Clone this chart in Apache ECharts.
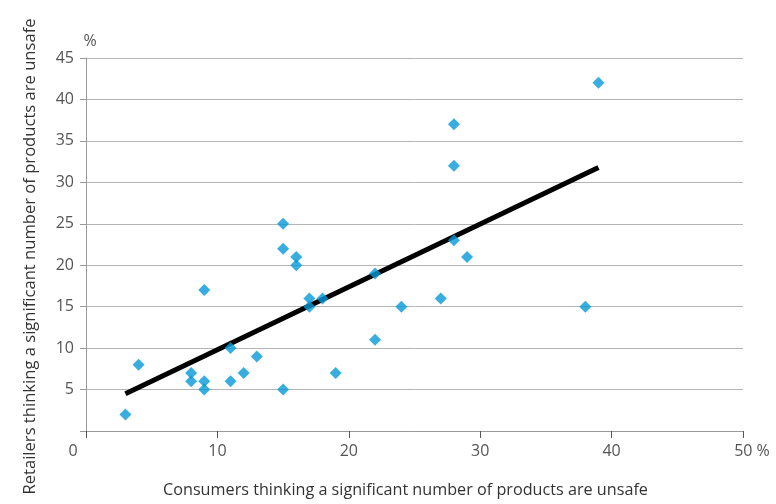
<!DOCTYPE html>
<html>
<head>
<meta charset="utf-8">
<script src="https://cdn.jsdelivr.net/npm/echarts@6/dist/echarts.min.js"></script>
<style>html,body{margin:0;padding:0;background:#fff}#c{width:776px;height:504px}</style>
</head>
<body>
<div id="c"></div>
<script>
// Consumers (%) thinking a significant number of products are unsafe
const consumers = [3, 4, 8, 8, 9, 9, 9, 11, 11, 12, 13, 15, 15, 15, 16, 16, 17, 17, 18, 19, 22, 22, 24, 27, 28, 28, 28, 29, 38, 39];
// Retailers (%) thinking a significant number of products are unsafe
const retailers = [2, 8, 7, 6, 17, 6, 5, 10, 6, 7, 9, 25, 22, 5, 21, 20, 16, 15, 16, 7, 19, 11, 15, 16, 37, 32, 23, 21, 15, 42];
// Linear trend line endpoints
const trendX = [3, 39];
const trendY = [4.5, 31.8];

const xTicks = { min: 0, max: 50, interval: 10 };
const yTicks = { min: 0, max: 45, interval: 5 };

const points = consumers.map((c, i) => [c, retailers[i]]);
const trend = trendX.map((x, i) => [x, trendY[i]]);

const chart = echarts.init(document.getElementById('c'), null, { renderer: 'canvas' });
const font = '"Open Sans", "Noto Sans", sans-serif';
chart.setOption({
  animation: false,
  backgroundColor: '#fff',
  grid: { left: 86, right: 33, top: 58, bottom: 73 },
  xAxis: {
    type: 'value', min: xTicks.min, max: xTicks.max, interval: xTicks.interval,
    name: 'Consumers thinking a significant number of products are unsafe',
    nameLocation: 'middle', nameGap: 51,
    nameTextStyle: { color: '#333', fontSize: 16.2, fontFamily: font, padding: [0, 18, 0, 0] },
    axisLine: { show: true, lineStyle: { color: '#999', width: 1 } },
    axisTick: { show: true, length: 7, lineStyle: { color: '#555' } },
    splitLine: { show: false },
    axisLabel: {
      color: '#555', fontSize: 16, fontFamily: font, margin: 12,
      formatter: v => v === 0 ? '{z|0}' : (v === 50 ? '{p|50 %}' : String(v)),
      rich: {
        z: { color: '#555', fontSize: 16, fontFamily: font, padding: [0, 26, 0, 0] },
        p: { color: '#555', fontSize: 16, fontFamily: font, padding: [0, 0, 0, 18] }
      }
    }
  },
  yAxis: [
    {
      type: 'value', min: yTicks.min, max: yTicks.max, interval: yTicks.interval,
      name: '%', nameLocation: 'end', nameGap: 9,
      nameTextStyle: { color: '#555', fontSize: 16, fontFamily: font, padding: [0, 0, 0, 8] },
      axisLine: { show: true, lineStyle: { color: '#999', width: 1 } },
      axisTick: { show: true, length: 6, lineStyle: { color: '#999' } },
      splitLine: { show: true, lineStyle: { color: '#b4b4b4', width: 1 } },
      axisLabel: {
        color: '#555', fontSize: 16, fontFamily: font, margin: 12,
        formatter: v => v === 0 ? '' : String(v)
      }
    },
    {
      type: 'value', min: yTicks.min, max: yTicks.max, position: 'left',
      name: 'Retailers thinking a significant number of products are unsafe',
      nameLocation: 'middle', nameGap: 47, nameRotate: 90,
      nameTextStyle: { color: '#333', fontSize: 16.6, fontFamily: font, padding: [0, 24, 0, 0] },
      axisLine: { show: false }, axisTick: { show: false },
      axisLabel: { show: false }, splitLine: { show: false }
    }
  ],
  series: [
    {
      type: 'line', data: trend, showSymbol: false, symbol: 'none',
      lineStyle: { color: '#000', width: 5 }, z: 2, silent: true
    },
    {
      type: 'scatter', data: points, symbol: 'diamond', symbolSize: [12, 12],
      itemStyle: { color: '#0599d8' }, z: 3
    }
  ]
});
</script>
</body>
</html>
